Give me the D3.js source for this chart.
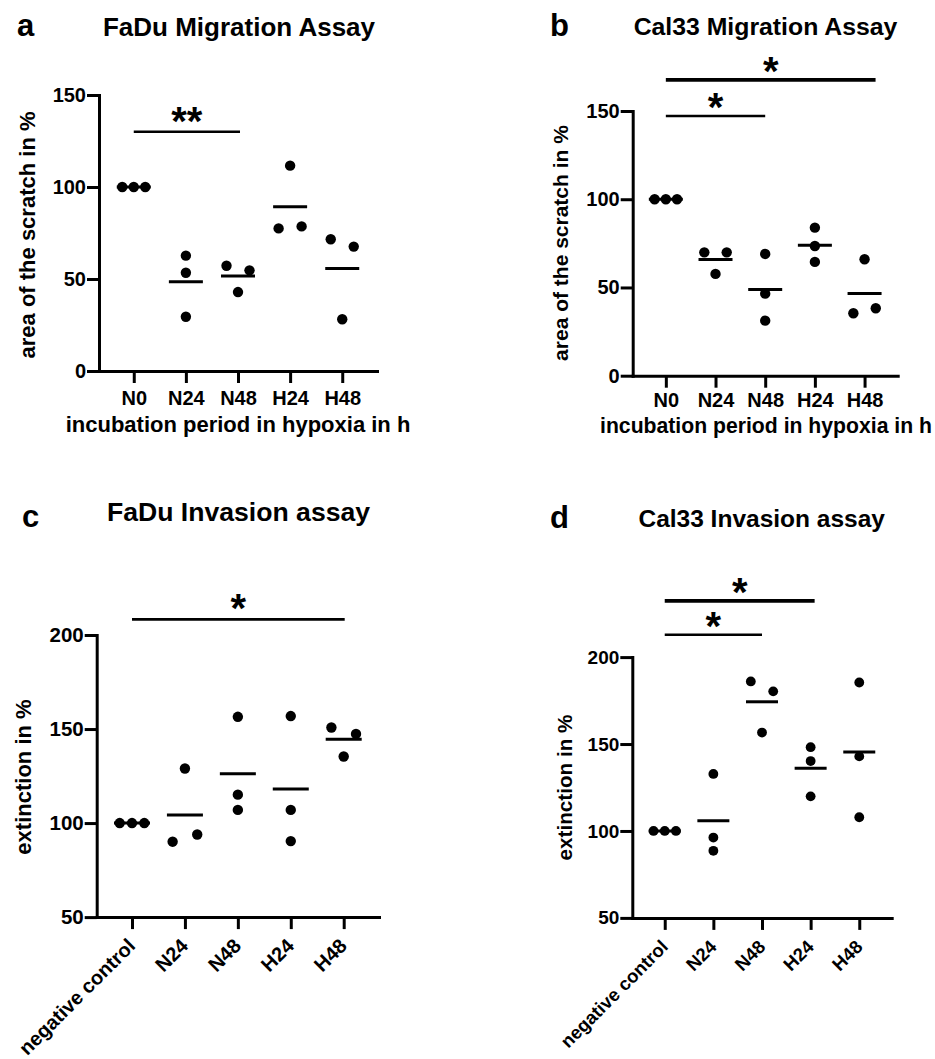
<!DOCTYPE html>
<html><head><meta charset="utf-8">
<script src="https://cdn.jsdelivr.net/npm/d3@7"></script>
<style>
body{margin:0;background:#fff}
svg{display:block}
text{font-family:"Liberation Sans",Arial,Helvetica,sans-serif;font-weight:bold;fill:#000}
</style>
</head><body>
<svg id="chart" width="935" height="1059"></svg>
<script>
// ---------- data ----------
const migCategories = ["N0", "N24", "N48", "H24", "H48"];
const invCategories = ["negative control", "N24", "N48", "H24", "H48"];

const migTicks = [0, 50, 100, 150];
const invTicks = [50, 100, 150, 200];

// replicate values per group (percent)
const faduMigration = [[100, 100, 100], [62.7, 53.4, 29.5], [57.2, 54.7, 42.9], [77.5, 78.6, 111.6], [71.6, 67.6, 28.1]];
const cal33Migration = [[100, 100, 100], [69.9, 69.9, 57.7], [69.0, 46.5, 31.2], [83.9, 73.5, 64.5], [66.0, 35.4, 38.2]];
const faduInvasion = [[100, 100, 100], [90.1, 93.9, 129.0], [156.5, 115.1, 107.0], [156.9, 107.0, 90.4], [150.8, 147.4, 135.4]];
const cal33Invasion = [[100, 100, 100], [132.8, 96.2, 88.6], [186.0, 180.3, 156.6], [148.2, 140.2, 119.9], [185.4, 142.9, 107.9]];

// significance brackets (level in data units)
const sigA = [{from: "N0", to: "N48", level: 130, label: "**"}];
const sigB = [{from: "N0", to: "N48", level: 147.2, label: "*"}, {from: "N0", to: "H48", level: 167.6, label: "*"}];
const sigC = [{from: "negative control", to: "H48", level: 208.3, label: "*"}];
const sigD = [{from: "negative control", to: "N48", level: 212.8, label: "*"}, {from: "negative control", to: "H24", level: 232.3, label: "*"}];

const svg = d3.select("#chart");

function swarmOffsets(vals, y, thr) {
  const idx = vals.map((v, i) => i).sort((a, b) => vals[a] - vals[b]);
  const clusters = [];
  let cur = [idx[0]];
  for (let k = 1; k < idx.length; k++) {
    if (Math.abs(y(vals[idx[k]]) - y(vals[idx[k - 1]])) < thr) cur.push(idx[k]);
    else { clusters.push(cur); cur = [idx[k]]; }
  }
  clusters.push(cur);
  const off = new Array(vals.length).fill(0);
  clusters.forEach(c => {
    c.sort((a, b) => a - b);
    const slots = c.length === 1 ? [0] : c.length === 2 ? [-1, 1] : d3.range(c.length).map(j => j - (c.length - 1) / 2);
    c.forEach((i, j) => off[i] = slots[j]);
  });
  return off;
}

function panel(cfg) {
  const g = svg.append("g");
  const x = d3.scalePoint().domain(cfg.cats).range([cfg.left, cfg.right]).padding(0.667);
  const y = d3.scaleLinear().domain(cfg.domain).range([cfg.bottom, cfg.top]);

  // panel letter + title
  g.append("text").attr("x", cfg.letterX).attr("y", cfg.letterY).attr("font-size", cfg.letterSize).text(cfg.letter);
  g.append("text").attr("x", cfg.titleX).attr("y", cfg.titleY).attr("text-anchor", "middle")
    .attr("font-size", cfg.titleSize).text(cfg.title);

  // axes
  const ya = g.append("g").attr("transform", `translate(${cfg.left},0)`)
    .call(d3.axisLeft(y).tickValues(cfg.ticks).tickSize(12).tickSizeOuter(0).tickPadding(1).tickFormat(d3.format("d")));
  const xa = g.append("g").attr("transform", `translate(0,${cfg.bottom})`)
    .call(d3.axisBottom(x).tickSize(12).tickSizeOuter(0).tickPadding(cfg.xTickPad));
  [ya, xa].forEach(a => {
    a.attr("font-family", null).attr("font-size", null);
    a.select(".domain").attr("stroke", "#000").attr("stroke-width", 3).attr("stroke-linecap", "square");
    a.selectAll(".tick line").attr("stroke", "#000").attr("stroke-width", 3);
    a.selectAll(".tick text").attr("fill", "#000").attr("font-size", cfg.tickFont);
  });
  if (cfg.rotate) {
    xa.selectAll(".tick text")
      .attr("font-size", cfg.xTickFont)
      .attr("text-anchor", "end").attr("dy", null).attr("y", 0)
      .attr("transform", `translate(${cfg.rotDx},${cfg.rotDy}) rotate(-45)`);
  }

  // axis titles
  g.append("text").attr("transform", `translate(${cfg.yLabelX},${cfg.yLabelY}) rotate(-90)`)
    .attr("text-anchor", "middle").attr("font-size", cfg.yLabelSize).text(cfg.yLabel);
  if (cfg.xLabel) {
    g.append("text").attr("x", cfg.xLabelX).attr("y", cfg.xLabelY).attr("text-anchor", "middle")
      .attr("font-size", cfg.xLabelSize).text(cfg.xLabel);
  }

  // points and means
  cfg.values.forEach((vals, i) => {
    const cx = x(cfg.cats[i]);
    const off = swarmOffsets(vals, y, 11);
    g.selectAll(null).data(vals).enter().append("circle")
      .attr("cx", (d, j) => cx + off[j] * cfg.slot)
      .attr("cy", d => y(d))
      .attr("r", cfg.r).attr("fill", "#000");
    const m = d3.mean(vals);
    g.append("line").attr("x1", cx - cfg.meanHalf).attr("x2", cx + cfg.meanHalf)
      .attr("y1", y(m)).attr("y2", y(m)).attr("stroke", "#000").attr("stroke-width", 3);
  });

  // significance
  cfg.sig.forEach((s, k) => {
    const x1 = x(s.from), x2 = x(s.to) + (cfg.sigExt ? cfg.sigExt[k] : 0);
    const yy = y(s.level);
    g.append("line").attr("x1", x1).attr("x2", x2).attr("y1", yy).attr("y2", yy)
      .attr("stroke", "#000").attr("stroke-width", cfg.sigWidth[k]);
    const fs = cfg.starSize;
    g.append("text").attr("x", (x1 + x2) / 2).attr("y", yy - cfg.starOff + 0.575 * fs)
      .attr("text-anchor", "middle").attr("font-size", fs).text(s.label);
  });
}

panel({
  letter: "a", letterX: 17, letterY: 36, letterSize: 31,
  title: "FaDu Migration Assay", titleX: 239, titleY: 36, titleSize: 26,
  left: 99, right: 377, top: 95, bottom: 371, domain: [0, 150], ticks: migTicks,
  cats: migCategories, values: faduMigration, sig: sigA, sigWidth: [2.5], sigExt: [2],
  yLabel: "area of the scratch in %", yLabelX: 35, yLabelY: 235, yLabelSize: 22,
  xLabel: "incubation period in hypoxia in h", xLabelX: 238, xLabelY: 432, xLabelSize: 22,
  tickFont: 20, xTickPad: 8, rotate: false, r: 5.2, slot: 11.5, meanHalf: 17, starSize: 40, starOff: 20
});

panel({
  letter: "b", letterX: 550, letterY: 36, letterSize: 31,
  title: "Cal33 Migration Assay", titleX: 765.5, titleY: 35, titleSize: 24.8,
  left: 632.7, right: 897.7, top: 111, bottom: 375.7, domain: [0, 150], ticks: migTicks,
  cats: migCategories, values: cal33Migration, sig: sigB, sigWidth: [2.5, 3.8], sigExt: [0, 11],
  yLabel: "area of the scratch in %", yLabelX: 568, yLabelY: 243, yLabelSize: 21,
  xLabel: "incubation period in hypoxia in h", xLabelX: 766, xLabelY: 433, xLabelSize: 21.2,
  tickFont: 20, xTickPad: 5, rotate: false, r: 5.2, slot: 11.2, meanHalf: 17, starSize: 40, starOff: 18
});

panel({
  letter: "c", letterX: 22, letterY: 527, letterSize: 31,
  title: "FaDu Invasion assay", titleX: 238.5, titleY: 521, titleSize: 26.6,
  left: 96.7, right: 379, top: 635, bottom: 917.1, domain: [50, 200], ticks: invTicks,
  cats: invCategories, values: faduInvasion, sig: sigC, sigWidth: [2.8], sigExt: [1],
  yLabel: "extinction in %", yLabelX: 31, yLabelY: 777, yLabelSize: 22,
  tickFont: 20.5, xTickFont: 20, xTickPad: 5, rotate: true, rotDx: 4, rotDy: 30,
  r: 5.2, slot: 12.3, meanHalf: 18, starSize: 40, starOff: 20
});

panel({
  letter: "d", letterX: 550, letterY: 528, letterSize: 31,
  title: "Cal33 Invasion assay", titleX: 761.7, titleY: 527, titleSize: 24.5,
  left: 632.3, right: 891.7, top: 657.1, bottom: 917.9, domain: [50, 200], ticks: invTicks,
  cats: invCategories, values: cal33Invasion, sig: sigD, sigWidth: [2.5, 3.8], sigExt: [0, 4],
  yLabel: "extinction in %", yLabelX: 572, yLabelY: 787.5, yLabelSize: 20.7,
  tickFont: 19, xTickFont: 18.5, xTickPad: 5, rotate: true, rotDx: 4, rotDy: 30,
  r: 4.9, slot: 11.2, meanHalf: 16, starSize: 40, starOff: 18
});
</script>
</body></html>
